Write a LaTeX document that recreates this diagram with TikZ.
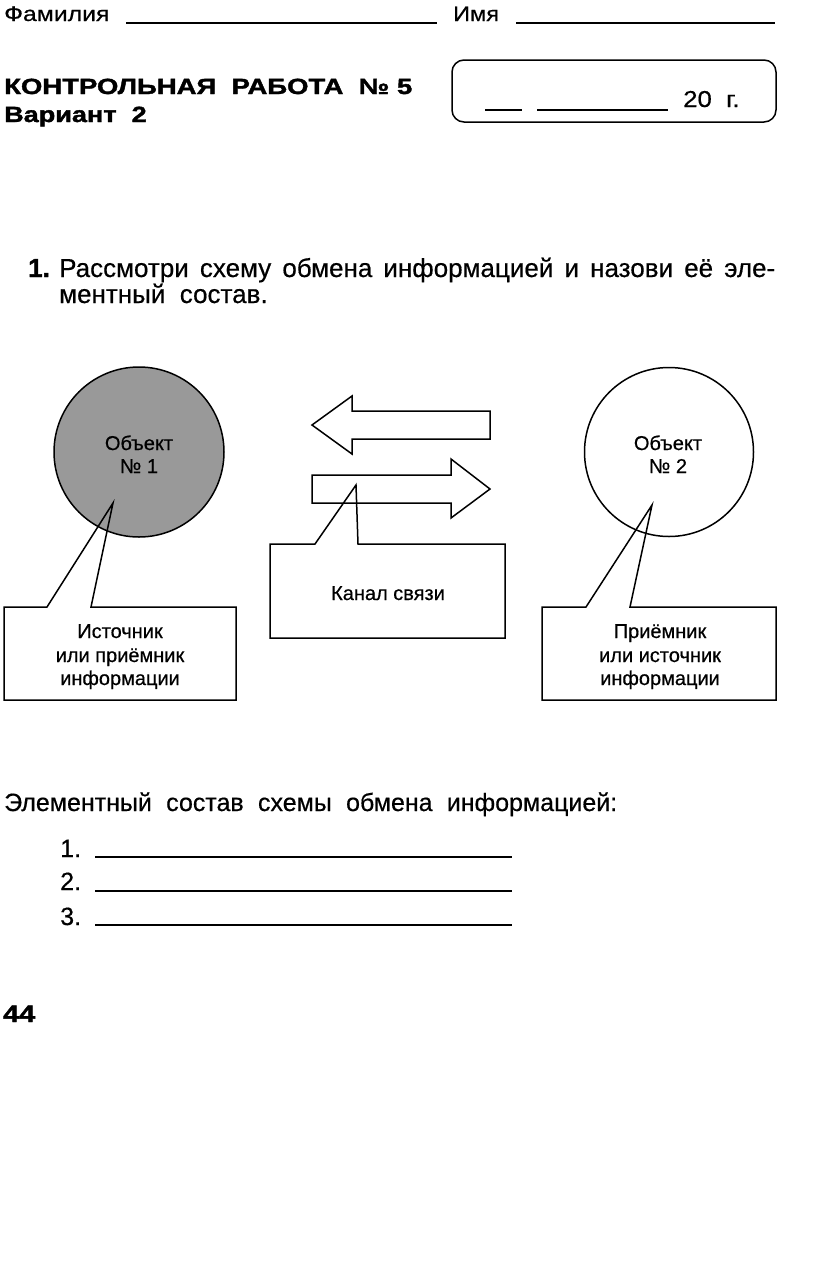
\documentclass[tikz,border=0pt]{standalone}
\usepackage{fontspec}
\setmainfont{Liberation Sans}
\newfontfamily\medfont[FakeBold=0.5]{Liberation Sans}
\newfontfamily\heavyfont[BoldFeatures={FakeBold=1.5}]{Liberation Sans}
\definecolor{objgray}{gray}{0.6}
\newcommand{\fsz}[1]{\fontsize{#1}{#1}\selectfont}
\tikzset{
  lbl/.style={inner sep=0pt, anchor=base west},
  clbl/.style={inner sep=0pt, anchor=base},
  uline/.style={line width=1.4pt},
  shp/.style={line width=1.5pt},
  lab/.style={clbl, font=\medfont\fsz{20}},
}
\begin{document}
\begin{tikzpicture}[x=1pt,y=-1pt]
\useasboundingbox (0,0) rectangle (816,1267);
% header
\node[lbl, font=\medfont\fsz{21}] (fam) at (4,21) {\scalebox{1.18}[1]{Фамилия}};
\coordinate (famA) at (126,23); \coordinate (famB) at (437,23);
\draw[uline] (famA) -- (famB);
\node[lbl, font=\medfont\fsz{21}] (imya) at (453,21) {\scalebox{1.12}[1]{Имя}};
\coordinate (imA) at (516,23); \coordinate (imB) at (775,23);
\draw[uline] (imA) -- (imB);
\node[lbl, font=\heavyfont\bfseries\fsz{22}] (head) at (4,94) {\scalebox{1.25}[1]{КОНТРОЛЬНАЯ\ \ РАБОТА\ \ №\ 5}};
\node[lbl, font=\heavyfont\bfseries\fsz{22}] (var) at (4,122) {\scalebox{1.23}[1]{Вариант\ \ 2}};
\node[draw, shp, rounded corners=12pt, minimum width=324pt, minimum height=62pt, inner sep=0pt] (datebox) at (614,91) {};
\coordinate (d1a) at (485,110); \coordinate (d1b) at (522,110);
\coordinate (d2a) at (537,110); \coordinate (d2b) at (668,110);
\draw[uline] (d1a) -- (d1b);
\draw[uline] (d2a) -- (d2b);
\node[lbl, font=\medfont\fsz{23}] (year) at (683,107) {\scalebox{1.12}[1]{20\ \ г.}};
% question
\node[lbl, font=\heavyfont\bfseries\fsz{26}] (qnum) at (28,277) {1.};
\node[lbl, font=\medfont\fsz{26}] (qa) at (59,277) {\makebox[716pt][s]{Рассмотри схему обмена информацией и назови её эле-}};
\node[lbl, font=\medfont\fsz{26}] (qb) at (59,303) {ментный\ \ состав.};
% objects
\node[circle, draw, shp, fill=objgray, minimum size=170pt, inner sep=0pt] (obj1) at (139,452) {};
\node[lab] (obj1a) at (139,450) {Объект};
\node[lab] (obj1b) at (139,473) {№ 1};
\node[circle, draw, shp, fill=white, minimum size=169pt, inner sep=0pt] (obj2) at (669,452) {};
\node[lab] (obj2a) at (668,450) {Объект};
\node[lab] (obj2b) at (668,473) {№ 2};
% arrows
\draw[shp] (312,425) -- (352,396) -- (352,411) -- (490,411) -- (490,439) -- (352,439) -- (352,454) -- cycle;
\draw[shp] (312,475) -- (451,475) -- (451,459) -- (490,489) -- (451,518) -- (451,503) -- (312,503) -- cycle;
% callout 1
\coordinate (t1) at (113,503);
\draw[shp] (47,607) -- (t1) -- (91,607) -- (236,607) -- (236,700) -- (4,700) -- (4,607) -- cycle;
\node[lab] (s1a) at (120,638) {Источник};
\node[lab] (s1b) at (120,662) {или приёмник};
\node[lab] (s1c) at (120,685) {информации};
% channel callout
\coordinate (tc) at (356,485);
\draw[shp] (315,544) -- (tc) -- (358,544) -- (505,544) -- (505,638) -- (270,638) -- (270,544) -- cycle;
\node[lab] (chan) at (388,600) {Канал связи};
% callout 2
\coordinate (t2) at (652,505);
\draw[shp] (586,607) -- (t2) -- (630,607) -- (776,607) -- (776,700) -- (542,700) -- (542,607) -- cycle;
\node[lab] (s2a) at (660,638) {Приёмник};
\node[lab] (s2b) at (660,662) {или источник};
\node[lab] (s2c) at (660,685) {информации};
% answer part
\node[lbl, font=\medfont\fsz{25}] (elem) at (4,811) {\makebox[613pt][s]{Элементный состав схемы обмена информацией:}};
\node[lbl, font=\medfont\fsz{25}] (n1) at (60,857) {1.};
\node[lbl, font=\medfont\fsz{25}] (n2) at (60,890) {2.};
\node[lbl, font=\medfont\fsz{25}] (n3) at (60,925) {3.};
\coordinate (a1a) at (95,857); \coordinate (a1b) at (512,857);
\coordinate (a2a) at (95,891); \coordinate (a2b) at (512,891);
\coordinate (a3a) at (95,925); \coordinate (a3b) at (512,925);
\draw[uline] (a1a) -- (a1b);
\draw[uline] (a2a) -- (a2b);
\draw[uline] (a3a) -- (a3b);
\node[lbl, font=\heavyfont\bfseries\fsz{24}] (page) at (3,1022) {\scalebox{1.2}[1]{44}};
\end{tikzpicture}
\end{document}
